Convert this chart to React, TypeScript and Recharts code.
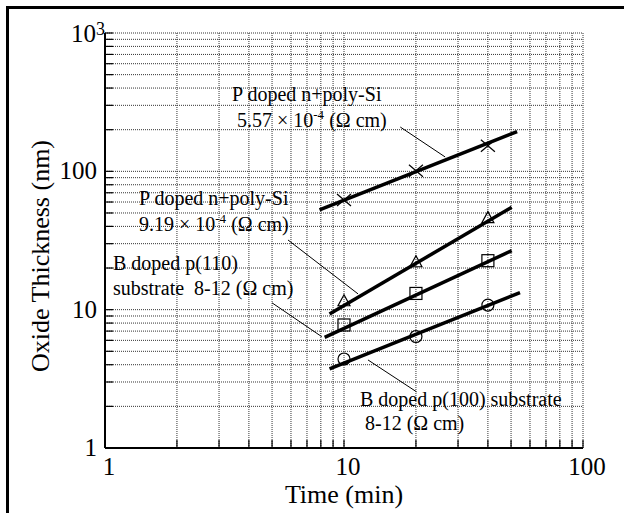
import React from 'react';
import {
  ComposedChart,
  XAxis,
  YAxis,
  CartesianGrid,
  Line,
  Scatter,
  ReferenceLine,
  Customized,
} from 'recharts';

// ---- data ----
const timeTicks = [1, 2, 3, 4, 5, 6, 7, 8, 9, 10, 20, 30, 40, 50, 60, 70, 80, 90, 100];
const thicknessTicks = [
  1, 2, 3, 4, 5, 6, 7, 8, 9, 10, 20, 30, 40, 50, 60, 70, 80, 90, 100, 200, 300, 400, 500, 600, 700,
  800, 900, 1000,
];

const timeMin = [10, 20, 40];
const thkPoly557 = [62, 101, 153];
const thkPoly919 = [11.6, 22.2, 46.3];
const thkP110 = [7.75, 13.1, 22.6];
const thkP100 = [4.4, 6.4, 10.8];

const fitTimePoly557 = [7.9, 53];
const fitThkPoly557 = [52.6, 194];
const fitTimePoly919 = [8.7, 50.3];
const fitThkPoly919 = [9.3, 55];
const fitTimeP110 = [8.3, 50.3];
const fitThkP110 = [6.3, 26.7];
const fitTimeP100 = [8.7, 54.5];
const fitThkP100 = [3.73, 13.3];

// leader lines (data coords): [x1, y1, x2, y2]
const leaderPoly557 = [17.2, 209, 26.5, 127];
const leaderPoly919 = [5.83, 31.9, 11.45, 13.0];
const leaderP110 = [5.0, 11.2, 8.07, 6.38];
const leaderP100 = [12.6, 4.33, 20.1, 2.55];

const toPts = (xs: number[], ys: number[]) => xs.map((x, i) => ({ x, y: ys[i] }));

const ptsPoly557 = toPts(timeMin, thkPoly557);
const ptsPoly919 = toPts(timeMin, thkPoly919);
const ptsP110 = toPts(timeMin, thkP110);
const ptsP100 = toPts(timeMin, thkP100);

const fitPoly557 = toPts(fitTimePoly557, fitThkPoly557);
const fitPoly919 = toPts(fitTimePoly919, fitThkPoly919);
const fitP110 = toPts(fitTimeP110, fitThkP110);
const fitP100 = toPts(fitTimeP100, fitThkP100);

const leaders = [leaderPoly557, leaderPoly919, leaderP110, leaderP100];

const FONT = "'Liberation Serif', 'Times New Roman', serif";

const isDecade = (v: number) => Math.abs(Math.log10(v) - Math.round(Math.log10(v))) < 1e-9;

const BottomTick = (props: any) => {
  const { x, y, payload } = props;
  const v = payload.value;
  return (
    <g>
      <line x1={x} y1={y} x2={x} y2={y - 8} stroke="#000" strokeWidth={1.2} />
      {isDecade(v) && (
        <text x={x + 4} y={y + 27} textAnchor="middle" fontSize={25} fontFamily={FONT} fill="#000">
          {v}
        </text>
      )}
    </g>
  );
};

const LeftTick = (props: any) => {
  const { x, y, payload } = props;
  const v = payload.value;
  return (
    <g>
      <line x1={x} y1={y} x2={x + 8} y2={y} stroke="#000" strokeWidth={1.2} />
      {isDecade(v) && v < 1000 && (
        <text x={x - 8} y={y + 8} textAnchor="end" fontSize={25} fontFamily={FONT} fill="#000">
          {v}
        </text>
      )}
      {v === 1000 && (
        <g>
          <text x={x - 9} y={y + 9} textAnchor="end" fontSize={25} fontFamily={FONT} fill="#000">
            10
          </text>
          <text x={x - 9} y={y + 2} textAnchor="start" fontSize={18} fontFamily={FONT} fill="#000">
            3
          </text>
        </g>
      )}
    </g>
  );
};

const TopTick = (props: any) => {
  const { x, y } = props;
  return <line x1={x} y1={y} x2={x} y2={y + 7} stroke="#000" strokeWidth={1.2} />;
};

const RightTick = (props: any) => {
  const { x, y } = props;
  return <line x1={x} y1={y} x2={x - 7} y2={y} stroke="#000" strokeWidth={1.2} />;
};

const CrossShape = (props: any) => {
  const { cx, cy } = props;
  return (
    <g stroke="#000" strokeWidth={1.2}>
      <line x1={cx - 7} y1={cy - 6} x2={cx + 7} y2={cy + 6} />
      <line x1={cx - 7} y1={cy + 6} x2={cx + 7} y2={cy - 6} />
    </g>
  );
};
const TriangleShape = (props: any) => {
  const { cx, cy } = props;
  return (
    <polygon
      points={`${cx},${cy - 6} ${cx - 6},${cy + 5} ${cx + 6},${cy + 5}`}
      fill="none"
      stroke="#000"
      strokeWidth={1.2}
    />
  );
};
const SquareShape = (props: any) => {
  const { cx, cy } = props;
  return <rect x={cx - 6} y={cy - 6} width={12} height={12} fill="none" stroke="#000" strokeWidth={1.2} />;
};
const CircleShape = (props: any) => {
  const { cx, cy } = props;
  return <circle cx={cx} cy={cy} r={6} fill="none" stroke="#000" strokeWidth={1.2} />;
};

const Sup = ({ children }: { children: React.ReactNode }) => (
  <>
    <tspan dy={-8} fontSize={13}>
      {children}
    </tspan>
    <tspan dy={8}> </tspan>
  </>
);

const Annotations = () => (
  <g fontFamily={FONT} fontSize={20} fill="#000">
    <text x={232} y={101}>P doped n+poly-Si</text>
    <text x={237} y={127}>
      5.57 × 10<Sup>-4</Sup>(Ω cm)
    </text>
    <text x={139} y={205}>P doped n+poly-Si</text>
    <text x={139} y={231}>
      9.19 × 10<Sup>-4</Sup>(Ω cm)
    </text>
    <text x={113} y={270}>B doped p(110)</text>
    <text x={113} y={295}>
      substrate{'\u00a0\u00a0'}8-12 (Ω cm)
    </text>
    <text x={360} y={406}>B doped p(100) substrate</text>
    <text x={365} y={430}>8-12 (Ω cm)</text>
    <text x={344} y={503} textAnchor="middle" fontSize={26}>
      Time (min)
    </text>
    <text
      x={40}
      y={256}
      textAnchor="middle"
      fontSize={26}
      transform="rotate(-90 40 256)"
      dominantBaseline="central"
    >
      Oxide Thickness (nm)
    </text>
  </g>
);

export default function App() {
  return (
    <div style={{ position: 'absolute', left: 0, top: 0, width: 624, height: 513, background: '#fff' }}>
      <div style={{ position: 'absolute', left: 6, top: 6, width: 3, height: 507, background: '#000' }} />
      <div style={{ position: 'absolute', left: 6, top: 6, width: 618, height: 3, background: '#000' }} />
      <ComposedChart
        width={624}
        height={513}
        margin={{ top: 33, right: 41, bottom: 0, left: 0 }}
        style={{ position: 'absolute', left: 0, top: 0 }}
      >
        <CartesianGrid
          stroke="#333"
          strokeDasharray="1 1"
          strokeWidth={1}
          horizontalValues={thicknessTicks}
          verticalValues={timeTicks}
        />
        <XAxis
          xAxisId={0}
          dataKey="x"
          type="number"
          scale="log"
          domain={[1, 100]}
          ticks={timeTicks}
          interval={0}
          allowDataOverflow
          height={65}
          tickSize={0}
          tickMargin={0}
          tickLine={false}
          axisLine={{ stroke: '#000', strokeWidth: 2 }}
          tick={<BottomTick />}
        />
        <XAxis
          xAxisId="top"
          orientation="top"
          dataKey="x"
          type="number"
          scale="log"
          domain={[1, 100]}
          ticks={timeTicks}
          interval={0}
          allowDataOverflow
          height={0}
          tickSize={0}
          tickMargin={0}
          tickLine={false}
          axisLine={{ stroke: '#000', strokeWidth: 2 }}
          tick={<TopTick />}
        />
        <YAxis
          yAxisId={0}
          dataKey="y"
          type="number"
          scale="log"
          domain={[1, 1000]}
          ticks={thicknessTicks}
          interval={0}
          allowDataOverflow
          width={105}
          tickSize={0}
          tickMargin={0}
          tickLine={false}
          axisLine={{ stroke: '#000', strokeWidth: 2 }}
          tick={<LeftTick />}
        />
        <YAxis
          yAxisId="right"
          orientation="right"
          dataKey="y"
          type="number"
          scale="log"
          domain={[1, 1000]}
          ticks={thicknessTicks}
          interval={0}
          allowDataOverflow
          width={0}
          tickSize={0}
          tickMargin={0}
          tickLine={false}
          axisLine={{ stroke: '#000', strokeWidth: 2 }}
          tick={<RightTick />}
        />
        {leaders.map((l, i) => (
          <ReferenceLine
            key={i}
            segment={[
              { x: l[0], y: l[1] },
              { x: l[2], y: l[3] },
            ]}
            stroke="#000"
            strokeWidth={1}
            ifOverflow="visible"
          />
        ))}
        <Line data={fitPoly557} dataKey="y" type="linear" stroke="#000" strokeWidth={3.5} dot={false} isAnimationActive={false} />
        <Line data={fitPoly919} dataKey="y" type="linear" stroke="#000" strokeWidth={3.5} dot={false} isAnimationActive={false} />
        <Line data={fitP110} dataKey="y" type="linear" stroke="#000" strokeWidth={3.5} dot={false} isAnimationActive={false} />
        <Line data={fitP100} dataKey="y" type="linear" stroke="#000" strokeWidth={3.5} dot={false} isAnimationActive={false} />
        <Scatter data={ptsPoly557} dataKey="y" shape={<CrossShape />} isAnimationActive={false} />
        <Scatter data={ptsPoly919} dataKey="y" shape={<TriangleShape />} isAnimationActive={false} />
        <Scatter data={ptsP110} dataKey="y" shape={<SquareShape />} isAnimationActive={false} />
        <Scatter data={ptsP100} dataKey="y" shape={<CircleShape />} isAnimationActive={false} />
        <Customized component={<Annotations />} />
      </ComposedChart>
    </div>
  );
}
